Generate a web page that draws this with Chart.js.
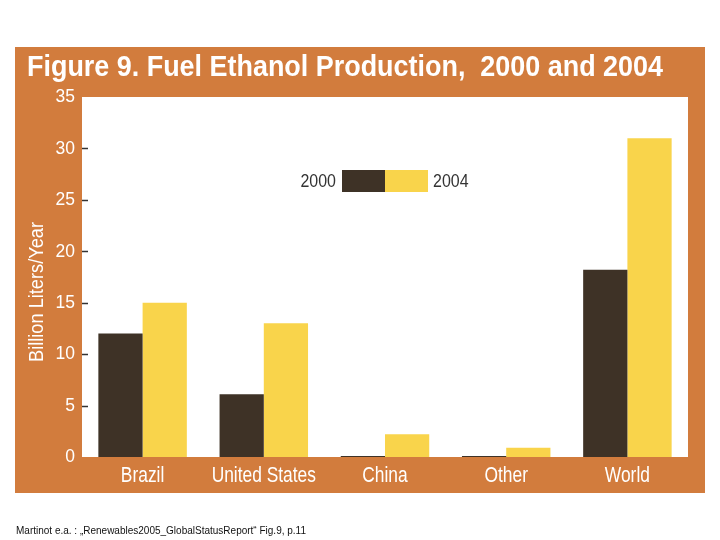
<!DOCTYPE html>
<html>
<head>
<meta charset="utf-8">
<script src="https://cdn.jsdelivr.net/npm/chart.js@4"></script>
<style>
  html, body { margin: 0; padding: 0; background: #fff; }
  #wrap { position: relative; width: 720px; height: 540px; }
  #caption {
    position: absolute; left: 16px; top: 525px;
    font-family: 'Liberation Sans', sans-serif;
    font-size: 10px; color: #111;
  }
</style>
</head>
<body>
<div id="wrap">
  <canvas id="c" width="720" height="540"></canvas>
  <div id="caption">Martinot e.a. : „Renewables2005_GlobalStatusReport“ Fig.9, p.11</div>
</div>
<script>
// ==================== DATA ====================
const CATEGORIES = ['Brazil', 'United States', 'China', 'Other', 'World'];
const SERIES_LABELS = ['2000', '2004'];
const VALUES_2000 = [12, 6.1, 0.1, 0.1, 18.2];
const VALUES_2004 = [15, 13, 2.2, 0.9, 31];
const Y_TICKS = [0, 5, 10, 15, 20, 25, 30, 35];

const ORANGE = '#d27c3d';
const DARK = '#3e3226';
const YELLOW = '#f9d44b';
const FONT = "'Liberation Sans', Arial, sans-serif";

// draws text squeezed horizontally, to imitate a condensed face
function narrowText(ctx, text, x, y, align, sx) {
  const w = ctx.measureText(text).width * sx;
  let x0 = x;
  if (align === 'center') x0 = x - w / 2;
  else if (align === 'right') x0 = x - w;
  ctx.save();
  ctx.translate(x0, y);
  ctx.scale(sx, 1);
  ctx.textAlign = 'left';
  ctx.fillText(text, 0, 0);
  ctx.restore();
}

const decor = {
  id: 'decor',
  beforeDraw(chart) {
    const { ctx, chartArea: a } = chart;
    ctx.save();
    ctx.fillStyle = ORANGE;
    ctx.fillRect(15, 47, 690, 446);
    ctx.fillStyle = '#fff';
    ctx.fillRect(a.left, a.top, a.right - a.left, a.bottom - a.top);

    // title
    ctx.fillStyle = '#fff';
    ctx.font = 'bold 29px ' + FONT;
    ctx.textBaseline = 'alphabetic';
    const title = 'Figure 9. Fuel Ethanol Production,  2000 and 2004';
    narrowText(ctx, title, 27, 76, 'left', 636 / ctx.measureText(title).width);

    // y axis title
    ctx.save();
    ctx.translate(37, 292);
    ctx.rotate(-Math.PI / 2);
    ctx.font = '20px ' + FONT;
    ctx.textBaseline = 'middle';
    const yt = 'Billion Liters/Year';
    narrowText(ctx, yt, 0, 0, 'center', 140 / ctx.measureText(yt).width);
    ctx.restore();

    // y tick labels
    ctx.font = '19px ' + FONT;
    ctx.textBaseline = 'middle';
    Y_TICKS.forEach(v => {
      narrowText(ctx, String(v), a.left - 7, chart.scales.y.getPixelForValue(v), 'right', 0.92);
    });

    // x tick labels
    ctx.font = '22px ' + FONT;
    ctx.textBaseline = 'middle';
    CATEGORIES.forEach((c, i) => {
      narrowText(ctx, c, chart.scales.x.getPixelForTick(i), a.bottom + 19, 'center', 0.79);
    });
    ctx.restore();
  },
  afterDatasetsDraw(chart) {
    const { ctx, chartArea: a, scales } = chart;
    ctx.save();
    // short ticks inside plot
    ctx.strokeStyle = '#333';
    ctx.lineWidth = 1.5;
    Y_TICKS.slice(1, -1).forEach(v => {
      const y = Math.round(scales.y.getPixelForValue(v)) + 0.5;
      ctx.beginPath();
      ctx.moveTo(a.left, y);
      ctx.lineTo(a.left + 6, y);
      ctx.stroke();
    });

    // legend
    const ly = a.top + 73, lh = 22;
    const bx = a.left + 260, bw = 43;
    ctx.fillStyle = DARK;
    ctx.fillRect(bx, ly, bw, lh);
    ctx.fillStyle = YELLOW;
    ctx.fillRect(bx + bw, ly, bw, lh);
    ctx.fillStyle = '#333';
    ctx.font = '19px ' + FONT;
    ctx.textBaseline = 'middle';
    narrowText(ctx, SERIES_LABELS[0], bx - 6, ly + lh / 2 + 1, 'right', 0.84);
    narrowText(ctx, SERIES_LABELS[1], bx + 2 * bw + 5, ly + lh / 2 + 1, 'left', 0.84);
    ctx.restore();
  }
};

new Chart(document.getElementById('c'), {
  type: 'bar',
  data: {
    labels: CATEGORIES,
    datasets: [
      { label: SERIES_LABELS[0], data: VALUES_2000, backgroundColor: DARK },
      { label: SERIES_LABELS[1], data: VALUES_2004, backgroundColor: YELLOW }
    ]
  },
  options: {
    responsive: false,
    animation: false,
    devicePixelRatio: 1,
    datasets: { bar: { barPercentage: 1, categoryPercentage: 0.73 } },
    layout: { padding: { left: 0, top: 97, right: 32, bottom: 43 } },
    plugins: { legend: { display: false }, tooltip: { enabled: false } },
    scales: {
      x: {
        grid: { display: false, drawTicks: false },
        border: { display: false },
        ticks: { display: false },
        afterFit: s => { s.height = 40; }
      },
      y: {
        min: 0, max: 35,
        afterBuildTicks: s => { s.ticks = Y_TICKS.map(v => ({ value: v })); },
        grid: { display: false, drawTicks: false },
        border: { display: false },
        ticks: { display: false },
        afterFit: s => { s.width = 82; }
      }
    }
  },
  plugins: [decor]
});
</script>
</body>
</html>
